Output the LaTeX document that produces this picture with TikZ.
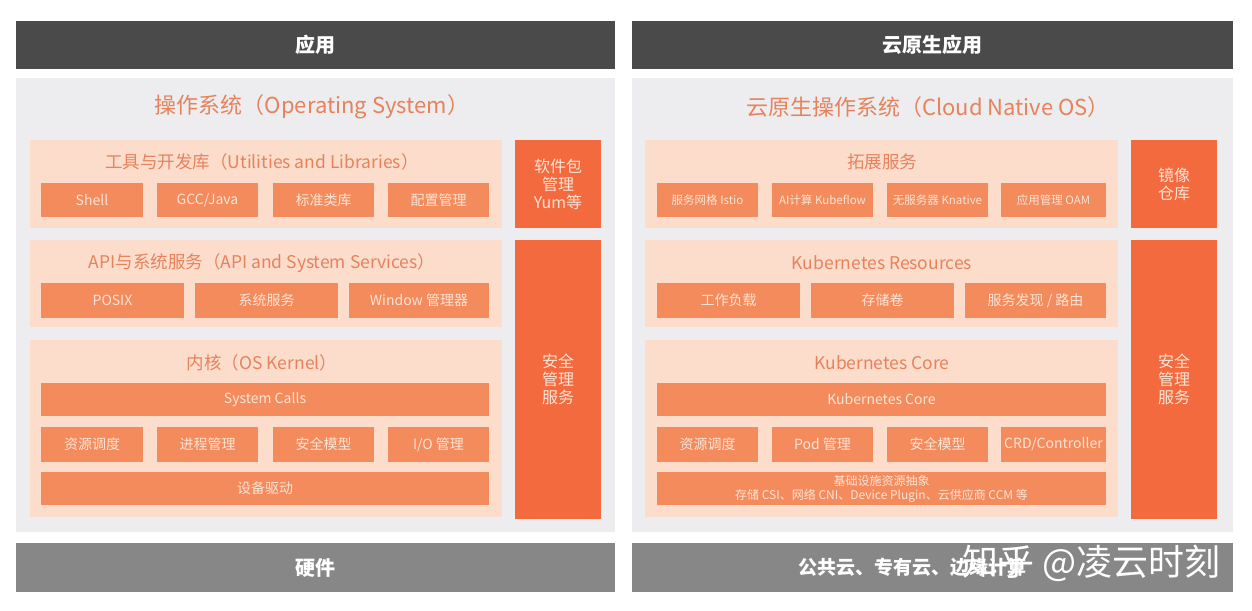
\documentclass[tikz,border=0pt]{standalone}
\usepackage{fontspec}
\setmainfont{Noto Sans CJK SC}
\definecolor{darkbar}{HTML}{4A4A4A}
\definecolor{hwbar}{HTML}{878787}
\definecolor{panel}{HTML}{EDEDEF}
\definecolor{peach}{HTML}{FCDDCC}
\definecolor{item}{HTML}{F38B5C}
\definecolor{side}{HTML}{F26A3D}
\definecolor{ttl}{HTML}{E6825C}
\definecolor{itemtxt}{HTML}{FDE3D5}
\newcommand{\mybox}[7]{%
  \pgfmathsetmacro\mbw{#5-#3}\pgfmathsetmacro\mbh{#6-#4}%
  \pgfmathsetmacro\mbx{(#3+#5)/2}\pgfmathsetmacro\mby{(#4+#6)/2}%
  \node[#2, minimum width=\mbw pt, minimum height=\mbh pt, inner sep=0pt] (#1) at (\mbx,\mby) {#7};}
\tikzset{
  topbar/.style={fill=darkbar, text=white, font=\fontsize{20}{22}\selectfont\bfseries},
  hwbox/.style={fill=hwbar, text=white, font=\fontsize{20}{22}\selectfont\bfseries},
  panelbox/.style={fill=panel},
  group/.style={fill=peach},
  itembox/.style={fill=item, text=itemtxt, font=\fontsize{14}{16}\selectfont},
  smallitem/.style={fill=item, text=itemtxt, font=\fontsize{11.5}{13}\selectfont},
  sidebox/.style={fill=side, text=itemtxt, align=center, font=\fontsize{16}{18}\selectfont},
  maintitle/.style={text=ttl, font=\fontsize{22}{24}\selectfont},
  grouptitle/.style={text=ttl, font=\fontsize{17.5}{19}\selectfont},
}
\begin{document}
\begin{tikzpicture}[x=1pt,y=-1pt]
\fill[white] (0,0) rectangle (1252,610);
\useasboundingbox (0,0) rectangle (1252,610);
% ---------- LEFT ----------
\mybox{lapp}{topbar}{16}{21}{615}{69}{应用}
\mybox{lpanel}{panelbox}{16}{78}{615}{532}{}
\node[maintitle] (los) at (312,107) {操作系统（Operating System）};
\mybox{lutil}{group}{30}{140}{502}{228}{}
\node[grouptitle] (lutilt) at (262,162) {工具与开发库（Utilities and Libraries）};
\mybox{lshell}{itembox}{41}{183}{143}{217}{Shell}
\mybox{lgcc}{itembox}{157}{183}{258}{217}{GCC/Java}
\mybox{lstd}{itembox}{273}{183}{374}{217}{标准类库}
\mybox{lcfg}{itembox}{388}{183}{489}{217}{配置管理}
\mybox{lyum}{sidebox}{515}{140}{601}{228}{软件包\\管理\\Yum等}
\mybox{lapi}{group}{30}{240}{502}{327}{}
\node[grouptitle] (lapit) at (262,263) {API与系统服务（API and System Services）};
\mybox{lposix}{itembox}{41}{283}{184}{318}{POSIX}
\mybox{lsys}{itembox}{195}{283}{338}{318}{系统服务}
\mybox{lwin}{itembox}{349}{283}{489}{318}{Window 管理器}
\mybox{lker}{group}{30}{340}{502}{517}{}
\node[grouptitle] (lkert) at (262,363) {内核（OS Kernel）};
\mybox{lcalls}{itembox}{41}{383}{489}{416}{System Calls}
\mybox{lres}{itembox}{41}{427}{143}{462}{资源调度}
\mybox{lproc}{itembox}{157}{427}{258}{462}{进程管理}
\mybox{lsec}{itembox}{273}{427}{374}{462}{安全模型}
\mybox{lio}{itembox}{388}{427}{489}{462}{I/O 管理}
\mybox{ldrv}{itembox}{41}{472}{489}{505}{设备驱动}
\mybox{lsafe}{sidebox}{515}{240}{601}{519}{安全\\管理\\服务}
\mybox{lhw}{hwbox}{16}{543}{615}{592}{硬件}
% ---------- RIGHT ----------
\mybox{rapp}{topbar}{632}{21}{1233}{69}{云原生应用}
\mybox{rpanel}{panelbox}{632}{78}{1233}{532}{}
\node[maintitle] (ros) at (928,107) {云原生操作系统（Cloud Native OS）};
\mybox{rext}{group}{645}{140}{1118}{228}{}
\node[grouptitle] (rextt) at (882,162) {拓展服务};
\mybox{ristio}{smallitem}{657}{183}{758}{217}{服务网格 Istio}
\mybox{rai}{smallitem}{772}{183}{873}{217}{AI计算 Kubeflow}
\mybox{rkn}{smallitem}{887}{183}{988}{217}{无服务器 Knative}
\mybox{roam}{smallitem}{1001}{183}{1106}{217}{应用管理 OAM}
\mybox{rimg}{sidebox}{1131}{140}{1217}{228}{镜像\\仓库}
\mybox{rres}{group}{645}{240}{1118}{327}{}
\node[grouptitle] (rrest) at (882,263) {Kubernetes Resources};
\mybox{rwl}{itembox}{657}{283}{800}{318}{工作负载}
\mybox{rvol}{itembox}{811}{283}{954}{318}{存储卷}
\mybox{rsvc}{itembox}{965}{283}{1106}{318}{服务发现 / 路由}
\mybox{rcore}{group}{645}{340}{1118}{517}{}
\node[grouptitle] (rcoret) at (882,363) {Kubernetes Core};
\mybox{rkc}{itembox}{657}{383}{1106}{416}{Kubernetes Core}
\mybox{rsch}{itembox}{657}{427}{758}{462}{资源调度}
\mybox{rpod}{itembox}{772}{427}{873}{462}{Pod 管理}
\mybox{rsec}{itembox}{887}{427}{988}{462}{安全模型}
\mybox{rcrd}{itembox}{1001}{427}{1106}{462}{CRD/Controller}
\node[fill=item, text=itemtxt, align=center, minimum width=449pt, minimum height=33pt, inner sep=0pt, font=\fontsize{12}{14}\selectfont] (rinfra) at (881.5,488.5) {基础设施资源抽象\\存储 CSI、网络 CNI、Device Plugin、云供应商 CCM 等};
\mybox{rsafe}{sidebox}{1131}{240}{1217}{519}{安全\\管理\\服务}
\mybox{rhw}{hwbox}{632}{543}{1233}{592}{}
\node[text=white, font=\fontsize{19}{21}\selectfont\bfseries, anchor=west] (rhwt) at (795,567) {公共云、专有云、边缘计算};
\node[text=white, font=\fontsize{36}{38}\selectfont, anchor=west, inner sep=0pt] (wm) at (962,563) {知乎 @凌云时刻};
\end{tikzpicture}
\end{document}
